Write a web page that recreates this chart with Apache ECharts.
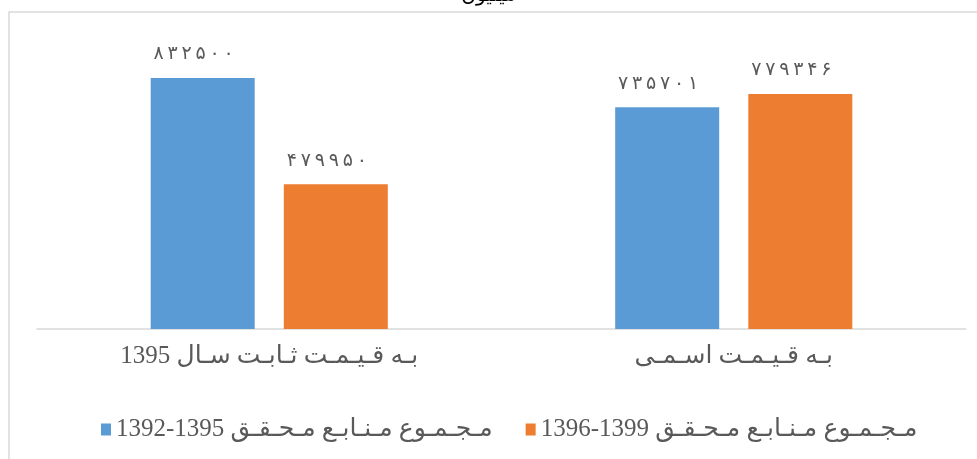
<!DOCTYPE html>
<html>
<head>
<meta charset="utf-8">
<script src="https://cdn.jsdelivr.net/npm/echarts@6/dist/echarts.min.js"></script>
<style>html,body{margin:0;padding:0;background:#fff}#c{width:977px;height:459px}</style>
</head>
<body>
<div id="c"></div>
<script>
var categories = ['به قیمت ثابت سال 1395', 'به قیمت اسمی'];
var seriesNames = ['مجموع منابع محقق 1392-1395', 'مجموع منابع محقق 1396-1399'];
var values1392 = [832500, 735701];
var values1396 = [479950, 779346];
var titleText = 'میلیون';

var RLE = '\u202B', LRE = '\u202A', PDF = '\u202C';
var nonJoinLeft = 'اآأإدذرزژوؤةء';
function isAr(c) { return c && /[\u0620-\u064A\u067E\u0686\u0698\u06A9\u06AF\u06CC]/.test(c); }
function kashida(s) {
  var out = '';
  for (var i = 0; i < s.length; i++) {
    var c = s[i], n = s[i + 1];
    out += c;
    if (isAr(c) && isAr(n) && nonJoinLeft.indexOf(c) < 0) out += '\u0640';
  }
  return out;
}
function rtl(s) {
  s = kashida(s).replace(/[0-9][0-9\-]*[0-9]/g, function (m) { return LRE + m + PDF; });
  return RLE + s + PDF;
}
function fa(n) {
  var d = '۰۱۲۳۴۵۶۷۸۹';
  return String(n).replace(/\d/g, function (c) { return d[+c]; }).split('').join('\u2009');
}
var grey = '#595959';
var chart = echarts.init(document.getElementById('c'));
var labelCfg = {
  show: true, position: 'top', distance: 14, offset: [-9, 0],
  color: grey, fontSize: 19, fontFamily: 'DejaVu Sans',
  formatter: function (p) { return fa(p.value); }
};
chart.setOption({
  animation: false,
  backgroundColor: '#fff',
  title: {
    text: titleText, left: 'center', top: -19,
    textStyle: { fontSize: 20, color: '#000', fontWeight: 'normal', fontFamily: 'DejaVu Sans' }
  },
  graphic: [{
    type: 'rect', silent: true,
    shape: { x: 9, y: 12, width: 1000, height: 500 },
    style: { fill: 'none', stroke: '#d9d9d9', lineWidth: 1.5 }
  }],
  grid: { left: 37, right: 11, top: 27.5, bottom: 130 },
  legend: {
    left: 96, top: 412,
    itemWidth: 10, itemHeight: 12, itemGap: 33,
    icon: 'rect',
    data: seriesNames,
    formatter: function (n) { return rtl(n); },
    textStyle: { color: grey, fontSize: 25, fontFamily: 'Liberation Serif, DejaVu Sans' }
  },
  xAxis: {
    type: 'category', data: categories,
    axisLine: { lineStyle: { color: '#d9d9d9', width: 1.5 } },
    axisTick: { show: false },
    axisLabel: {
      margin: 15, color: grey, fontSize: 25, fontFamily: 'Liberation Serif, DejaVu Sans',
      formatter: function (v) { return rtl(v); }
    }
  },
  yAxis: {
    type: 'value', min: 0, max: 1000000, interval: 100000,
    show: false, splitLine: { show: false }
  },
  series: [{
    name: seriesNames[0], type: 'bar', data: values1392, barWidth: 104, barGap: '28%',
    itemStyle: { color: '#5b9bd5' }, label: labelCfg
  }, {
    name: seriesNames[1], type: 'bar', data: values1396, barWidth: 104,
    itemStyle: { color: '#ed7d31' }, label: labelCfg
  }]
});
</script>
</body>
</html>
